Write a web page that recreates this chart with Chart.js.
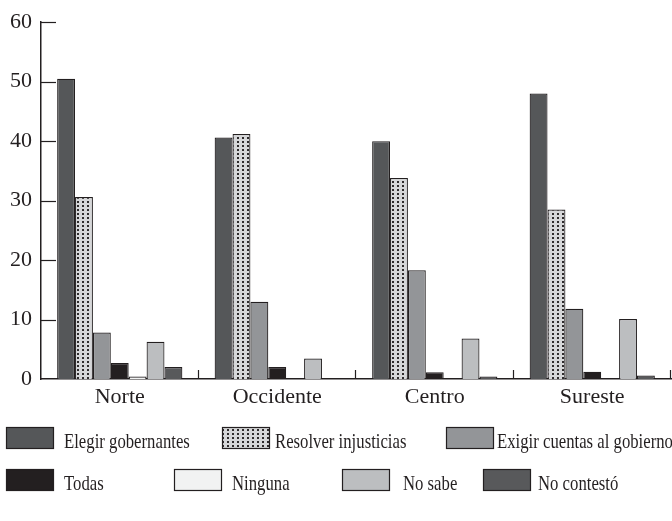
<!DOCTYPE html>
<html>
<head>
<meta charset="utf-8">
<script src="https://cdn.jsdelivr.net/npm/chart.js@4/dist/chart.umd.min.js"></script>
<style>
    body { margin: 0; background: #ffffff; }
    #grafico { display: block; }
</style>
</head>
<body>
<canvas id="grafico" width="672" height="521"></canvas>
<script>
/*
 * Dados por region
 * */
var regiones = ['Norte', 'Occidente', 'Centro', 'Sureste'];
var elegir = [50.5, 40.6, 40.0, 48.0];
var resolver = [30.6, 41.2, 33.8, 28.5];
var exigir = [7.8, 13.0, 18.3, 11.8];
var todas = [2.7, 2.0, 1.15, 1.2];
var ninguna = [0.4, 0, 0, 0];
var noSabe = [6.25, 3.45, 6.8, 10.1];
var noContesto = [2.0, 0, 0.4, 0.6];

var ticksY = [0, 10, 20, 30, 40, 50, 60];

var tinta = '#231f20';
var fuente = '"Liberation Serif", "DejaVu Serif", serif';

// fondo punteado de "Resolver injusticias"
function criarPadrao() {
    var c = document.createElement('canvas');
    c.width = 5;
    c.height = 4;
    var g = c.getContext('2d');
    g.fillStyle = '#d6d7d9';
    g.fillRect(0, 0, 5, 4);
    g.fillStyle = '#2e2b2c';
    g.fillRect(2, 1, 2, 2);
    return g.createPattern(c, 'repeat');
}

var punteado = criarPadrao();

function serie(label, valores, color) {
    return {
        label: label,
        data: valores,
        backgroundColor: color,
        borderColor: tinta,
        borderWidth: 1.2,
        categoryPercentage: 0.795,
        barPercentage: 1.0
    };
}

// posiciones de la leyenda (caja y texto)
var posLeyenda = [
    {x: 6, y: 427, tx: 64},
    {x: 222, y: 427, tx: 275},
    {x: 446, y: 427, tx: 497},
    {x: 6, y: 469, tx: 64},
    {x: 174, y: 469, tx: 232},
    {x: 342, y: 469, tx: 403},
    {x: 483, y: 469, tx: 538}
];

var marcasPlugin = {
    id: 'marcas',
    afterDraw: function(chart) {
        var ctx = chart.ctx;
        var area = chart.chartArea;
        var y = chart.scales.y;
        var x = chart.scales.x;

        ctx.save();
        ctx.strokeStyle = tinta;
        ctx.lineWidth = 1.2;

        // marcas del eje Y hacia adentro
        for (var i = 1; i < ticksY.length; i++) {
            var py = Math.round(y.getPixelForValue(ticksY[i])) + 0.5;
            ctx.beginPath();
            ctx.moveTo(area.left, py);
            ctx.lineTo(area.left + 15, py);
            ctx.stroke();
        }

        // marcas entre regiones
        var ancho = x.width / regiones.length;
        for (var j = 0; j < regiones.length; j++) {
            var px = Math.round(x.getPixelForValue(j) + ancho / 2) - 0.5;
            ctx.beginPath();
            ctx.moveTo(px, area.bottom);
            ctx.lineTo(px, area.bottom - 9);
            ctx.stroke();
        }

        // leyenda
        var sets = chart.data.datasets;
        for (var k = 0; k < sets.length; k++) {
            var p = posLeyenda[k];
            ctx.fillStyle = sets[k].backgroundColor;
            ctx.fillRect(p.x, p.y, 48, 22);
            ctx.lineWidth = 1.2;
            ctx.strokeRect(p.x + 0.5, p.y + 0.5, 47, 21);

            ctx.save();
            ctx.fillStyle = tinta;
            ctx.font = '22px ' + fuente;
            ctx.textBaseline = 'alphabetic';
            ctx.translate(p.tx, p.y + 21);
            ctx.scale(0.76, 1);
            ctx.fillText(sets[k].label, 0, 0);
            ctx.restore();
        }
        ctx.restore();
    }
};

function loadChart() {
    var canvas = document.getElementById('grafico');
    var ctx = canvas.getContext('2d');

    var chart = new Chart(ctx, {
        type: 'bar',
        data: {
            labels: regiones,
            datasets: [
                serie('Elegir gobernantes', elegir, '#555759'),
                serie('Resolver injusticias', resolver, punteado),
                serie('Exigir cuentas al gobierno', exigir, '#939598'),
                serie('Todas', todas, '#231f20'),
                serie('Ninguna', ninguna, '#f1f2f2'),
                serie('No sabe', noSabe, '#bcbec0'),
                serie('No contestó', noContesto, '#58595b')
            ]
        },
        options: {
            responsive: false,
            animation: false,
            layout: {
                padding: {top: 14, right: 1, bottom: 112, left: 0}
            },
            plugins: {
                legend: {display: false},
                tooltip: {enabled: false}
            },
            scales: {
                x: {
                    grid: {display: false, drawTicks: false},
                    border: {display: true, color: tinta, width: 1.5},
                    ticks: {
                        color: tinta,
                        padding: 5,
                        font: {family: fuente, size: 22}
                    },
                    afterFit: function(scale) { scale.height = 30; }
                },
                y: {
                    min: 0,
                    max: 60,
                    grid: {display: false, drawTicks: false},
                    border: {display: true, color: tinta, width: 1.5},
                    ticks: {
                        stepSize: 10,
                        color: tinta,
                        padding: 9,
                        font: {family: fuente, size: 22}
                    },
                    afterFit: function(scale) { scale.width = 41; }
                }
            }
        },
        plugins: [marcasPlugin]
    });

    return chart;
}

loadChart();
</script>
</body>
</html>
